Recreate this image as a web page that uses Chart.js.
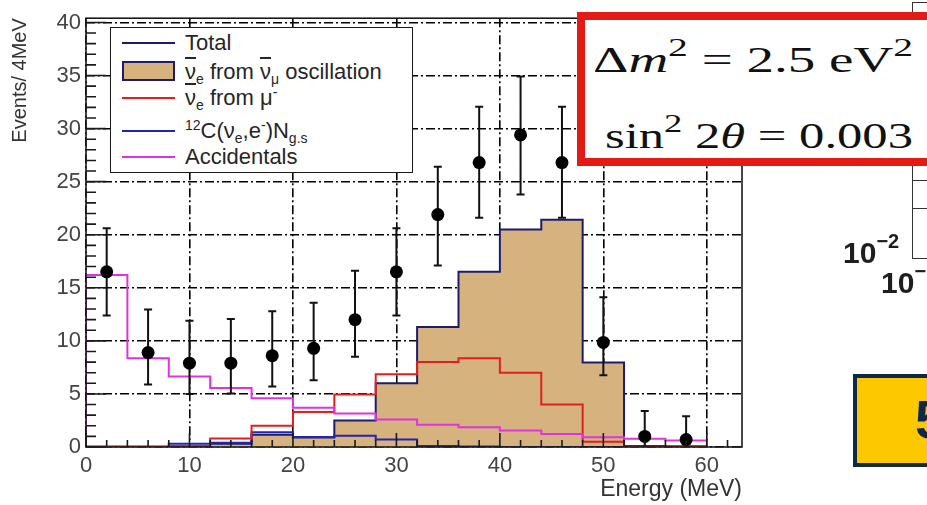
<!DOCTYPE html>
<html>
<head>
<meta charset="utf-8">
<script src="https://cdn.jsdelivr.net/npm/chart.js@4.4.0/dist/chart.umd.min.js"></script>
<style>
  body { margin: 0; background: #fff; }
  #wrap { position: relative; width: 927px; height: 505px; overflow: hidden; font-family: "Liberation Sans", Arial, sans-serif; }
  #wrap canvas { position: absolute; left: 0; top: 0; }
  .legend { position: absolute; left: 110px; top: 27px; width: 303px; height: 146px; box-sizing: border-box;
            border: 1.5px solid #1a1a1a; background: #fff; color: #262626; font-size: 22px; }
  .row { position: absolute; left: 0; width: 100%; height: 26px; line-height: 26px; white-space: nowrap; }
  .row .swatch { position: absolute; left: 11px; top: 12px; width: 53px; height: 0; border-top: 2px solid; }
  .row .box { position: absolute; left: 11px; top: 2px; width: 49px; height: 16px; background: #d6b27f; border: 2px solid #1c1c6e; }
  .row .lbl { position: absolute; left: 74px; top: 0; }
  .bar { text-decoration: overline; }
  sub, sup { font-size: 14px; line-height: 0; }
  .redbox { position: absolute; left: 577px; top: 12px; width: 380px; height: 154px; box-sizing: border-box;
            border: 8px solid #e31b14; background: #fff; }
  .eq { position: absolute; font-family: "Liberation Serif", "Times New Roman", serif; font-size: 36px; color: #111;
        white-space: pre; transform-origin: 0 0; line-height: 1; }
  .eq sup { font-size: 26px; position: relative; top: -3px; }
  .frame2 { position: absolute; left: 912px; top: 2px; width: 40px; height: 255px; border-left: 1.5px solid #333;
            border-top: 1.5px solid #333; border-bottom: 1.5px solid #333; }
  .tick2 { position: absolute; left: 912px; width: 20px; height: 0; border-top: 1.5px solid #333; }
  .pow { position: absolute; font-weight: bold; font-size: 30px; color: #1e1e1e; white-space: nowrap; }
  .pow sup { font-size: 20px; position: relative; top: -4px; }
  .ybox { position: absolute; left: 853px; top: 374px; width: 120px; height: 93px; box-sizing: border-box;
          border: 4px solid #0e2847; background: #fdc800; }
  .ybox span { position: absolute; left: 58px; top: 14px; font-weight: bold; font-size: 54px; color: #0e2847; line-height: 1; }
</style>
</head>
<body>
<div id="wrap">
  <canvas id="chart" width="927" height="505"></canvas>

  <div class="frame2"></div>
  <div class="tick2" style="top:180px"></div>
  <div class="tick2" style="top:208px"></div>
  <div class="pow" style="left:843px; top:236px">10<sup>−2</sup></div>
  <div class="pow" style="left:881px; top:266px">10<sup>−</sup></div>

  <div class="legend">
    <div class="row" style="top:2px"><div class="swatch" style="border-color:#1c1c6e"></div><div class="lbl">Total</div></div>
    <div class="row" style="top:31px"><div class="box"></div><div class="lbl"><span class="bar">ν</span><sub>e</sub> from <span class="bar">ν</span><sub>μ</sub> oscillation</div></div>
    <div class="row" style="top:57px"><div class="swatch" style="border-color:#e0211b"></div><div class="lbl"><span class="bar">ν</span><sub>e</sub> from μ<sup>-</sup></div></div>
    <div class="row" style="top:90px"><div class="swatch" style="border-color:#2323b4"></div><div class="lbl"><sup>12</sup>C(ν<sub>e</sub>,e<sup>-</sup>)N<sub>g.s</sub></div></div>
    <div class="row" style="top:116px"><div class="swatch" style="border-color:#e033e0"></div><div class="lbl">Accidentals</div></div>
  </div>

  <div class="redbox"></div>
  <div class="eq" data-w="320" style="left:593px; top:42px">Δ<i>m</i><sup>2</sup> = 2.5 eV<sup>2</sup></div>
  <div class="eq" data-w="308" style="left:605px; top:118px">sin<sup>2</sup> 2<i>θ</i> = 0.003</div>

  <div class="ybox"><span>5</span></div>
</div>

<script>
// bins of 4 MeV
const binEdges = [0, 4, 8, 12, 16, 20, 24, 28, 32, 36, 40, 44, 48, 52, 56, 60];
const oscillation = [0, 0, 0.1, 0.3, 1.15, 0.9, 2.5, 6.0, 11.3, 16.5, 20.5, 21.4, 7.95, 0.1, 0.05];
const muMinus     = [0, 0, 0.1, 0.8, 2.0, 3.3, 4.95, 6.85, 8.0, 8.35, 7.0, 4.0, 0.5, 0, 0];
const carbon      = [0.05, 0.05, 0.3, 0.4, 1.4, 0.95, 1.05, 0.7, 0.1, 0.05, 0, 0, 0, 0.1, 0.05];
const accidentals = [16.2, 8.35, 6.65, 5.55, 4.6, 3.7, 3.15, 2.6, 2.1, 1.85, 1.55, 1.22, 0.93, 0.78, 0.62];

// measured events with error bars
const dataEnergy = [2, 6, 10, 14, 18, 22, 26, 30, 34, 38, 42, 46, 50, 54, 58];
const dataEvents = [16.5, 8.9, 7.9, 7.9, 8.6, 9.3, 12.0, 16.5, 21.9, 26.8, 29.4, 26.8, 9.85, 1.0, 0.7];
const errHigh    = [20.6, 12.95, 11.9, 12.05, 12.8, 13.6, 16.6, 20.6, 26.4, 32.05, 34.9, 32.05, 14.1, 3.4, 2.9];
const errLow     = [12.4, 5.9, 5.0, 5.05, 5.7, 6.3, 8.5, 12.4, 17.1, 21.6, 23.8, 21.6, 6.75, 0, 0];

const xTicks = [0, 10, 20, 30, 40, 50, 60];
const yTicks = [0, 5, 10, 15, 20, 25, 30, 35, 40];

// histogram -> step outline points (closed down to zero at both ends)
function histPoints(values) {
  const pts = [{x: binEdges[0], y: 0}];
  values.forEach((v, i) => pts.push({x: binEdges[i], y: v}));
  const last = binEdges[values.length];
  pts.push({x: last, y: values[values.length - 1]});
  pts.push({x: last, y: 0});
  return pts;
}

const errorBars = {
  id: 'errorBars',
  beforeDatasetDraw(chart, args) {
    if (args.index !== 0) return;
    const {ctx, scales: {x, y}} = chart;
    ctx.save();
    ctx.strokeStyle = '#111';
    ctx.lineWidth = 2;
    ctx.beginPath();
    dataEnergy.forEach((e, i) => {
      const px = x.getPixelForValue(e);
      const top = y.getPixelForValue(errHigh[i]);
      const bot = y.getPixelForValue(errLow[i]);
      ctx.moveTo(px, top); ctx.lineTo(px, bot);
      ctx.moveTo(px - 4, top); ctx.lineTo(px + 4, top);
      if (errLow[i] > 0) { ctx.moveTo(px - 4, bot); ctx.lineTo(px + 4, bot); }
    });
    ctx.stroke();
    ctx.restore();
  }
};

// ROOT-like frame with inner ticks
const frame = {
  id: 'frame',
  afterDatasetsDraw(chart) {
    const {ctx, chartArea: a, scales: {x, y}} = chart;
    ctx.save();
    ctx.strokeStyle = '#1a1a1a';
    ctx.lineWidth = 1.6;
    ctx.strokeRect(a.left, a.top, a.right - a.left, a.bottom - a.top);
    ctx.beginPath();
    for (let v = 0; v <= y.max; v += 1) {
      const py = y.getPixelForValue(v);
      const len = v % 5 === 0 ? 20 : 10;
      ctx.moveTo(a.left, py); ctx.lineTo(a.left + len, py);
    }
    for (let v = 0; v <= x.max; v += 2) {
      const px = x.getPixelForValue(v);
      const len = v % 10 === 0 ? 14 : 7;
      ctx.moveTo(px, a.bottom); ctx.lineTo(px, a.bottom - len);
    }
    ctx.stroke();
    ctx.restore();
  }
};

Chart.defaults.font.family = '"Liberation Sans", Arial, sans-serif';

new Chart(document.getElementById('chart'), {
  type: 'line',
  data: {
    datasets: [
      {
        label: 'Data',
        data: dataEnergy.map((e, i) => ({x: e, y: dataEvents[i]})),
        showLine: false,
        pointRadius: 6.5,
        pointBackgroundColor: '#000',
        pointBorderColor: '#000',
        pointBorderWidth: 0
      },
      {
        label: 'Accidentals',
        data: histPoints(accidentals),
        stepped: true,
        borderColor: '#e033e0',
        borderWidth: 2,
        pointRadius: 0,
        fill: false
      },
      {
        label: 'anti-nu_e from mu-',
        data: histPoints(muMinus),
        stepped: true,
        borderColor: '#e0211b',
        borderWidth: 2,
        pointRadius: 0,
        fill: false
      },
      {
        label: '12C(nu_e,e-)N g.s',
        data: histPoints(carbon),
        stepped: true,
        borderColor: '#2323b4',
        borderWidth: 2,
        pointRadius: 0,
        fill: false
      },
      {
        label: 'anti-nu_e from anti-nu_mu oscillation',
        data: histPoints(oscillation),
        stepped: true,
        borderColor: '#1c1c6e',
        backgroundColor: '#d6b27f',
        borderWidth: 2,
        pointRadius: 0,
        fill: 'origin'
      }
    ]
  },
  options: {
    responsive: false,
    devicePixelRatio: 1,
    animation: false,
    layout: { padding: { left: 0, top: 14, right: 185, bottom: 0 } },
    plugins: { legend: { display: false }, tooltip: { enabled: false } },
    scales: {
      x: {
        type: 'linear',
        min: 0,
        max: 63.4,
        afterFit: s => { s.height = 58; },
        afterBuildTicks: s => { s.ticks = xTicks.map(v => ({value: v})); },
        ticks: { font: { size: 22 }, color: '#444', padding: 6, maxRotation: 0, autoSkip: false },
        grid: { color: '#000', lineWidth: 1.6, drawTicks: false },
        border: { display: false, dash: [9, 3, 2, 3] },
        title: { display: true, text: 'Energy (MeV)', align: 'end', color: '#333',
                 font: { size: 23 }, padding: { top: 0, bottom: 2 } }
      },
      y: {
        type: 'linear',
        min: 0,
        max: 40.4,
        afterFit: s => { s.width = 86; },
        afterBuildTicks: s => { s.ticks = yTicks.map(v => ({value: v})); },
        ticks: { font: { size: 22 }, color: '#444', padding: 5, autoSkip: false },
        grid: { color: '#000', lineWidth: 1.6, drawTicks: false },
        border: { display: false, dash: [9, 3, 2, 3] },
        title: { display: true, text: 'Events/ 4MeV', align: 'end', color: '#333',
                 font: { size: 20 }, padding: { top: 8, bottom: 0 } }
      }
    }
  },
  plugins: [errorBars, frame]
});

// stretch the formula lines to the width they have in the slide
document.querySelectorAll('.eq').forEach(el => {
  const w = el.getBoundingClientRect().width;
  el.style.transform = 'scaleX(' + (Number(el.dataset.w) / w) + ')';
});
</script>
</body>
</html>
